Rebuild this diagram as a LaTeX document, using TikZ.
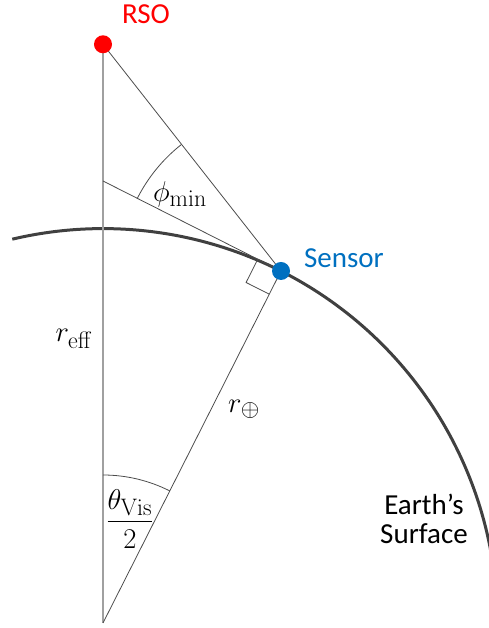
\documentclass[tikz,border=0pt]{standalone}
\usepackage[no-math]{fontspec}
\setmainfont{Carlito}
\usetikzlibrary{calc}
\definecolor{rsored}{HTML}{FF0000}
\definecolor{sensorblue}{HTML}{0070C0}
\definecolor{earthgray}{HTML}{404040}
\definecolor{axisgray}{HTML}{A0A0A0}

\begin{document}
\begin{tikzpicture}[
    x=1pt, y=1pt,
    thinline/.style={draw=black!70, line width=0.8pt},
    dot/.style={circle, minimum size=18pt, inner sep=0pt},
    lbl/.style={font=\fontsize{29}{29}\selectfont, inner sep=0pt, align=center},
    mathlbl/.style={font=\Huge, scale=1.15, inner sep=0pt}
]
\useasboundingbox (0,0) rectangle (489,628);

\coordinate (earth) at (103,5);
\coordinate (rso) at (103,583.7);
\coordinate (sensor) at (281,357);
\coordinate (horizon) at (103,447);

% right angle corner
\coordinate (ra1) at ($(sensor)!26pt!(horizon)$);
\coordinate (ra2) at ($(sensor)!26pt!(earth)$);

\draw[earthgray, line width=3pt] ($(earth)+(103.3:394.4)$) arc[start angle=103.3, end angle=10.4, radius=394.4];
\draw[axisgray, line width=2pt] (rso) -- (earth);
\draw[thinline] (rso) -- (sensor);
\draw[thinline] (horizon) -- (sensor);
\draw[thinline] (sensor) -- (earth);
\draw[thinline] (ra1) -- ($(ra1)+(ra2)-(sensor)$) -- (ra2);
\draw[thinline] ($(sensor)+(128.2:161)$) arc[start angle=128.2, end angle=153.2, radius=161];
\draw[thinline] ($(earth)+(63.18:148)$) arc[start angle=63.18, end angle=90, radius=148];

\node (rsodot) [dot, fill=rsored] at (rso) {};
\node (sensordot) [dot, fill=sensorblue] at (sensor) {};

\node (rsolbl) [lbl, text=rsored, anchor=base] at (146,604) {RSO};
\node (sensorlbl) [lbl, text=sensorblue, anchor=base] at (344,360) {Sensor};
\node (surfacelbl) [lbl, anchor=base] at (424,84) {Earth’s\\Surface};

\node (phimin) [mathlbl] at (180,434) {$\phi_{\mathrm{min}}$};
\node (reff) [mathlbl] at (74,289) {$r_{\mathrm{eff}}$};
\node (rearth) [mathlbl] at (244,219) {$r_{\oplus}$};
\node (thetavis) [mathlbl] at (130,109) {$\displaystyle\frac{\theta_{\mathrm{Vis}}}{2}$};
\end{tikzpicture}
\end{document}
